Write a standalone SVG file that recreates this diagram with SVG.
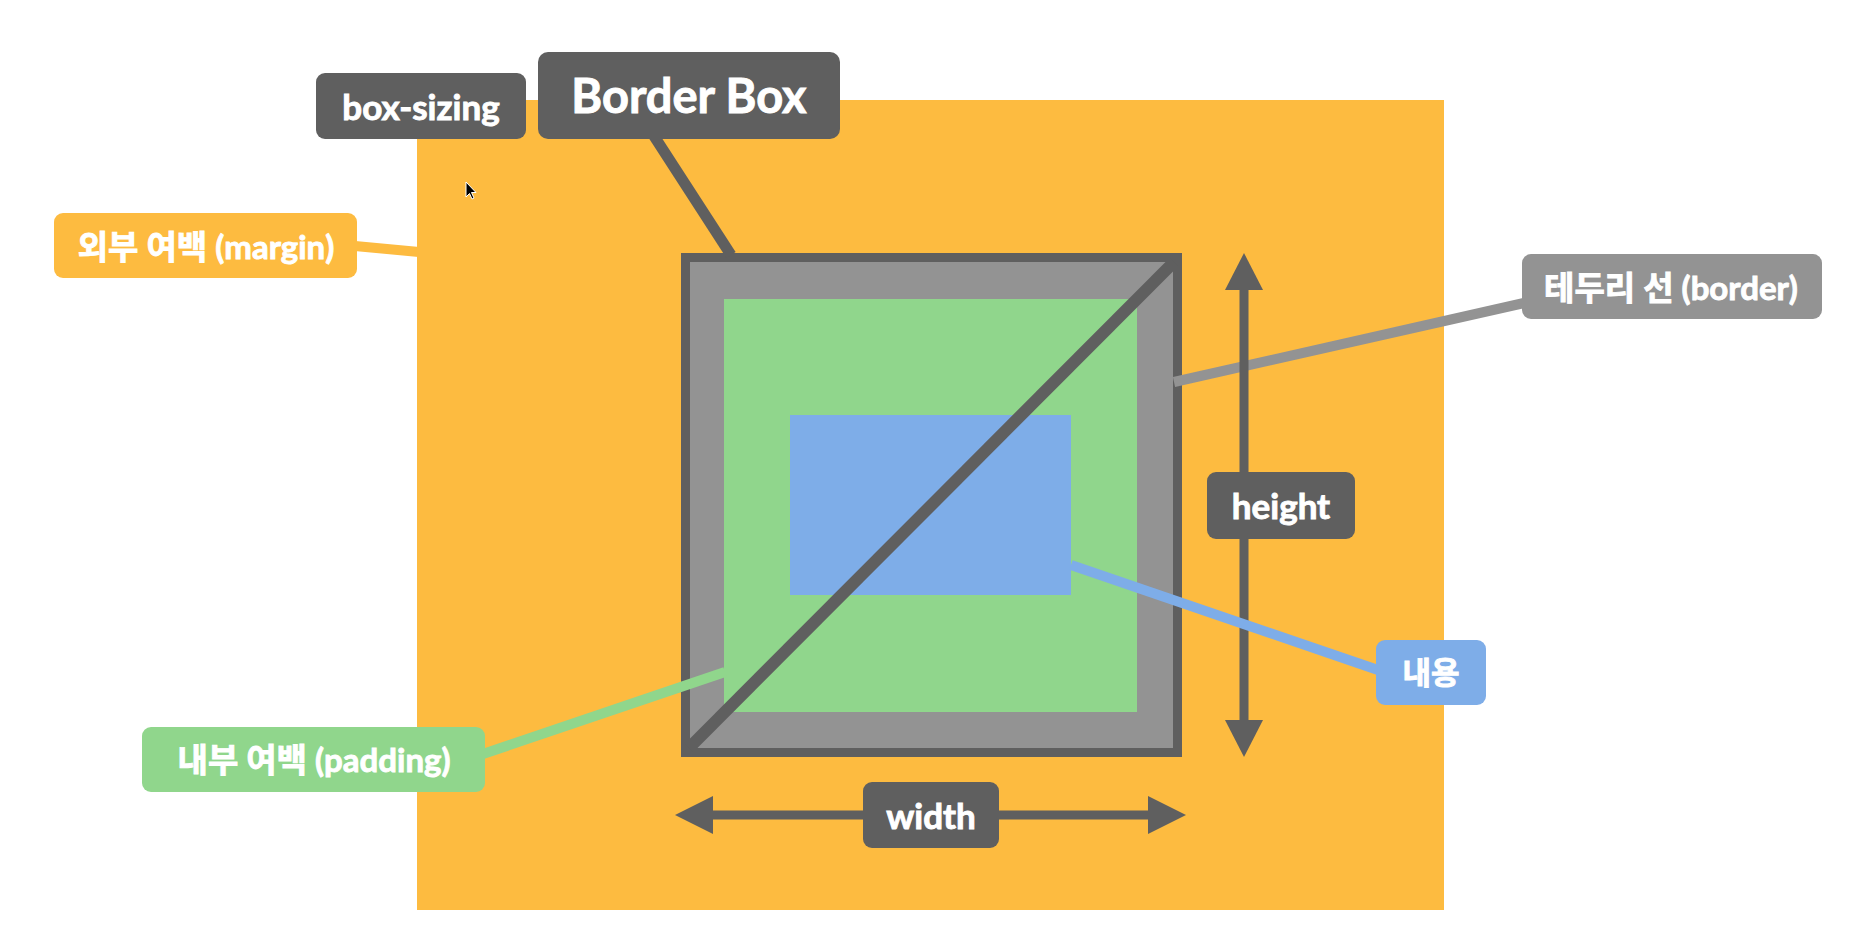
<svg xmlns="http://www.w3.org/2000/svg" width="1854" height="931" viewBox="0 0 1854 931">
<defs>
<style>
.lbl{font-family:Lato,"Noto Sans","Noto Sans CJK KR",sans-serif;font-weight:700;fill:#ffffff;stroke:#ffffff;stroke-width:0.9;text-anchor:middle;dominant-baseline:central}
.dark{fill:#5f5f5f}
.gray{fill:#939393}
.green{fill:#90d68c}
.blue{fill:#7eade8}
.orange{fill:#fdbb40}
.conn{fill:none;stroke-linecap:butt}
</style>
</defs>
<rect width="1854" height="931" fill="#ffffff"/>
<g id="margin-area"><rect x="417" y="100" width="1027" height="810" class="orange"/></g>
<g id="border-area">
<rect x="681" y="253" width="501" height="504" class="dark"/>
<rect x="690" y="262" width="483" height="486" class="gray"/>
</g>
<g id="padding-area"><rect x="724" y="299" width="413" height="413" class="green"/></g>
<g id="content-area"><rect x="790" y="415" width="281" height="180" class="blue"/></g>
<g id="diagonal"><line x1="689" y1="748" x2="1174" y2="262" stroke="#5f5f5f" stroke-width="12"/></g>
<g id="connectors">
<line class="conn" x1="355" y1="246" x2="419" y2="252" stroke="#fdbb40" stroke-width="10"/>
<line class="conn" x1="654" y1="136" x2="731" y2="255" stroke="#5f5f5f" stroke-width="11"/>
<line class="conn" x1="1174" y1="382" x2="1524" y2="303" stroke="#939393" stroke-width="10"/>
<line class="conn" x1="483" y1="754" x2="725" y2="672" stroke="#90d68c" stroke-width="10"/>
<line class="conn" x1="1244" y1="285" x2="1244" y2="725" stroke="#5f5f5f" stroke-width="9"/>
<polygon points="1244,253 1263,290 1225,290" class="dark"/>
<polygon points="1244,757 1263,720 1225,720" class="dark"/>
<line class="conn" x1="705" y1="815" x2="1156" y2="815" stroke="#5f5f5f" stroke-width="9"/>
<polygon points="675,815 713,796 713,834" class="dark"/>
<polygon points="1186,815 1148,796 1148,834" class="dark"/>
<line class="conn" x1="1071" y1="565" x2="1378" y2="670" stroke="#7eade8" stroke-width="10"/>
</g>
<g id="box-sizing"><rect x="316" y="73" width="210" height="66" rx="9" class="dark"/><text x="421" y="106" class="lbl" font-size="35">box-sizing</text></g>
<g id="border-box"><rect x="538" y="52" width="302" height="87" rx="10" class="dark"/><text x="689" y="95" class="lbl" font-size="47">Border Box</text></g>
<g id="margin-label"><rect x="54" y="213" width="303" height="65" rx="9" class="orange"/><text x="206" y="246" class="lbl" font-size="33">외부 여백 (margin)</text></g>
<g id="border-label"><rect x="1522" y="254" width="300" height="65" rx="9" class="gray"/><text x="1671" y="287" class="lbl" font-size="33">테두리 선 (border)</text></g>
<g id="height-label"><rect x="1207" y="472" width="148" height="67" rx="9" class="dark"/><text x="1281" y="505" class="lbl" font-size="35">height</text></g>
<g id="content-label"><rect x="1376" y="640" width="110" height="65" rx="9" class="blue"/><text x="1431" y="672" class="lbl" font-size="31">내용</text></g>
<g id="padding-label"><rect x="142" y="727" width="343" height="65" rx="9" class="green"/><text x="314" y="759" class="lbl" font-size="33">내부 여백 (padding)</text></g>
<g id="width-label"><rect x="863" y="782" width="136" height="66" rx="9" class="dark"/><text x="931" y="815" class="lbl" font-size="35">width</text></g>
<g id="cursor"><path d="M466,182 L466,197 L469.5,193.5 L472,199 L474,198 L471.5,192.5 L476,192.5 Z" fill="#000000" stroke="#ffffff" stroke-width="1"/></g>
</svg>
